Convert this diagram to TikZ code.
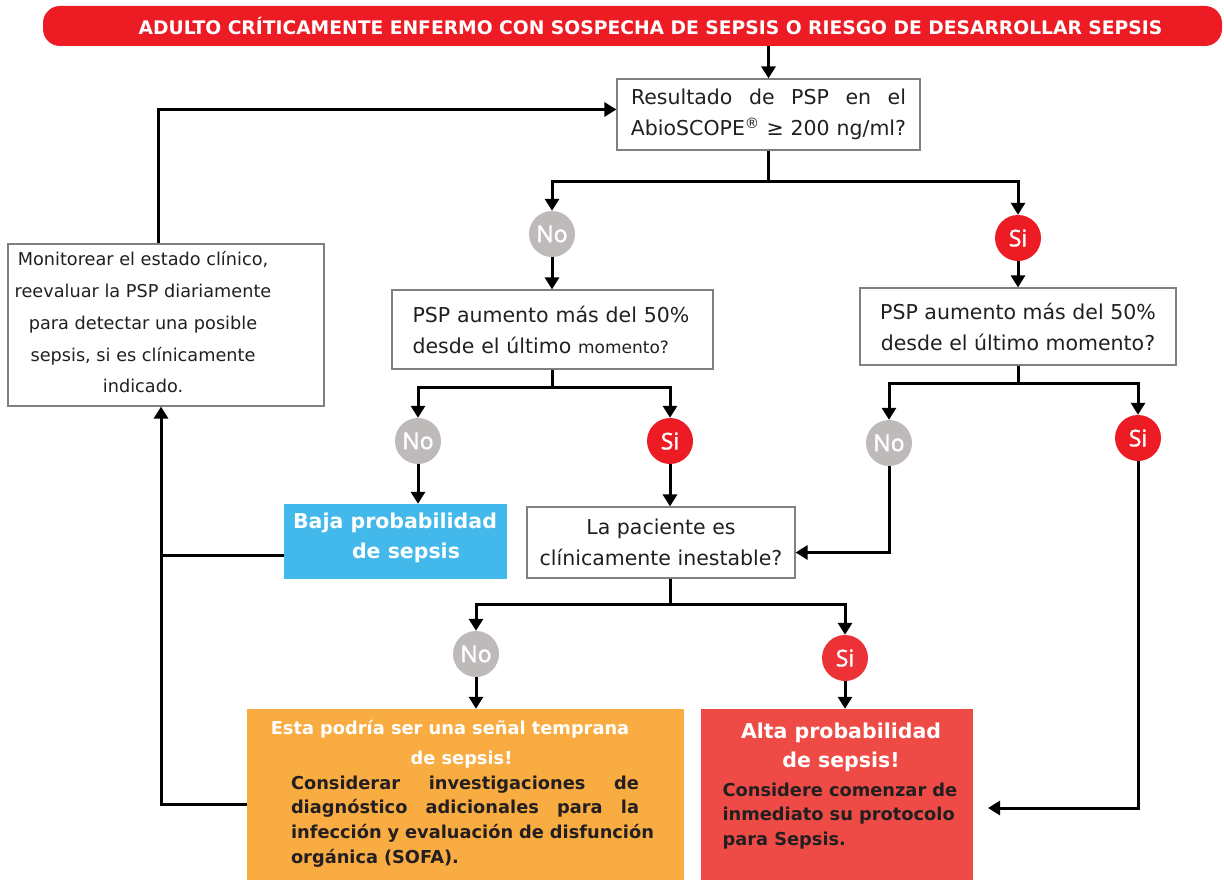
\documentclass[tikz,border=0pt]{standalone}
\usepackage{fontspec}
\setmainfont{DejaVu Sans}
\newfontfamily\circfont[FakeBold=1.6]{Open Sans}
\usetikzlibrary{arrows.meta,positioning,calc}

\definecolor{sepred}{HTML}{ED1C24}
\definecolor{sepredb}{HTML}{EC3237}
\definecolor{sepgray}{HTML}{BDBAB9}
\definecolor{sepblue}{HTML}{42B9EA}
\definecolor{seporange}{HTML}{F9AC42}
\definecolor{sepcoral}{HTML}{EF4B46}
\definecolor{sepdark}{HTML}{231F20}

\begin{document}
\begin{tikzpicture}[
    x=1pt, y=-1pt,
    banner/.style={fill=sepred, text=white, rounded corners=17pt,
      minimum width=1179pt, minimum height=40pt,
      font=\bfseries\fontsize{18.7}{18.7}\selectfont},
    qbox/.style={draw=black!50, line width=1.2pt, fill=white, align=center,
      text=sepdark, inner sep=0pt, font=\fontsize{20.5}{31}\selectfont},
    sicirc/.style={circle, fill=sepred, text=white, minimum size=46pt,
      inner sep=0pt, font=\circfont\fontsize{23}{23}\selectfont},
    nocirc/.style={sicirc, fill=sepgray},
    arrow/.style={-{Triangle[width=14pt,length=12pt]}, line width=3pt},
    line/.style={line width=3pt}
  ]
    \useasboundingbox (0,0) rectangle (1224,880);

    \node[banner] (top) at (632.5,26) {\hspace*{36pt}ADULTO CRÍTICAMENTE ENFERMO CON SOSPECHA DE SEPSIS O RIESGO DE DESARROLLAR SEPSIS};

    % questions
    \node[qbox, minimum width=303pt, minimum height=71pt, text width=290pt] (psp) at (768.5,114.5)
      {\makebox[275pt]{Resultado\hfill de\hfill PSP\hfill en\hfill el}\\\mbox{AbioSCOPE\textsuperscript{®} ≥ 200 ng/ml?}};
    \node[qbox, minimum width=321pt, minimum height=79pt, text width=280pt, align=left] (incl) at (552.5,329.5)
      {PSP aumento más del 50\%\\desde el último {\fontsize{17}{31}\selectfont momento?}};
    \node[qbox, minimum width=316pt, minimum height=77pt] (incr) at (1018,326.5)
      {PSP aumento más del 50\%\\desde el último momento?};
    \node[qbox, minimum width=268pt, minimum height=71pt] (pac) at (661,542.5)
      {La paciente es\\clínicamente inestable?};
    \node[qbox, minimum width=316pt, minimum height=162pt] (mon) at (166,325) {};
    \node[align=center, text=sepdark, font=\fontsize{17.7}{31.75}\selectfont] (montext) at (143,322.5)
      {Monitorear el estado clínico,\\reevaluar la PSP diariamente\\para detectar una posible\\sepsis, si es clínicamente\\indicado.};

    % results
    \node[fill=sepblue, minimum width=223pt, minimum height=75pt] (baja) at (395.5,541.5) {};
    \node[text=white, align=center, font=\bfseries\fontsize{20.5}{30}\selectfont] (bajatext) at (395,538)
      {Baja probabilidad\\\hspace*{22pt}de sepsis};
    \node[fill=seporange, minimum width=437pt, minimum height=171pt] (temp) at (465.5,794.5) {};
    \node[text=white, align=center, font=\bfseries\fontsize{17.8}{30}\selectfont] (temptitle) at (450,744)
      {Esta podría ser una señal temprana\\\hspace*{23pt}de sepsis!};
    \node[text=sepdark, text width=365pt, align=left, font=\bfseries\fontsize{17.8}{24.7}\selectfont] (tempbody) at (473.5,821.5)
      {\makebox[348pt]{Considerar\hfill investigaciones\hfill de}\\\makebox[348pt]{diagnóstico\hfill adicionales\hfill para\hfill la}\\infección y evaluación de disfunción\\orgánica (SOFA).};
    \node[fill=sepcoral, minimum width=272pt, minimum height=171pt] (alta) at (837,794.5) {};
    \node[text=white, align=center, font=\bfseries\fontsize{20.5}{29}\selectfont] (altatitle) at (841,747.5)
      {Alta probabilidad\\de sepsis!};
    \node[text=sepdark, align=left, anchor=west, font=\bfseries\fontsize{17.8}{24.5}\selectfont] (altabody) at (719,816)
      {Considere comenzar de\\inmediato su protocolo\\para Sepsis.};

    % answers
    \node[nocirc] (no1) at (552,234) {No};
    \node[sicirc] (si1) at (1018,238) {Si};
    \node[nocirc] (no2) at (418,441) {No};
    \node[sicirc] (si2) at (670,441) {Si};
    \node[nocirc] (no3) at (889,443) {No};
    \node[sicirc] (si3) at (1138,438) {Si};
    \node[nocirc] (no4) at (476,654) {No};
    \node[sicirc, fill=sepredb] (si4) at (845,658) {Si};

    \coordinate (aend) at (988,808);
    \coordinate (mb) at ([xshift=-5]mon.south);
    \coordinate (bw) at ([yshift=-14]baja.west);

    \draw[arrow] (top.south -| psp) -- (psp);
    \draw[arrow] (psp.south) -- ++(0,31) -| (no1.north);
    \draw[arrow] (psp.south) -- ++(0,31) -| (si1.north);
    \draw[arrow] (no1) -- (no1 |- incl.north);
    \draw[arrow] (si1) -- (si1 |- incr.north);
    \draw[arrow] (incl.south) -- ++(0,18) -| (no2.north);
    \draw[arrow] (incl.south) -- ++(0,18) -| (si2.north);
    \draw[arrow] (no2) -- (no2 |- baja.north);
    \draw[arrow] (si2) -- (si2 |- pac.north);
    \draw[arrow] (incr.south) -- ++(0,18) -| (no3.north);
    \draw[arrow] (incr.south) -- ++(0,18) -| (si3.north);
    \draw[arrow] (no3) |- ([yshift=-10]pac.east);
    \draw[arrow] (si3) |- (aend);
    \draw[arrow] (pac.south -| si2) -- ++(0,26) -| (no4.north);
    \draw[arrow] (pac.south -| si2) -- ++(0,26) -| (si4.north);
    \draw[arrow] (no4) -- (no4 |- temp.north);
    \draw[arrow] (si4) -- (si4 |- alta.north);
    \draw[line] (bw) -- (bw -| mb);
    \draw[arrow] ([yshift=-10]temp.west) -| (mb);
    \draw[arrow] ([xshift=-8]mon.north) |- ([yshift=5]psp.west);
\end{tikzpicture}
\end{document}
